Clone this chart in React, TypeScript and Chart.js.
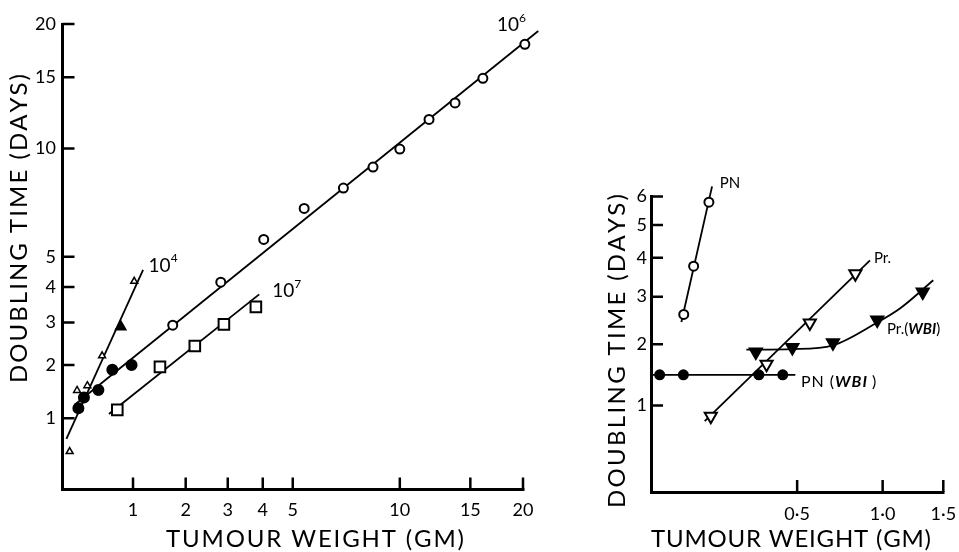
import React, { useEffect, useRef } from 'react';
import { Chart, registerables, LinearScale } from 'chart.js';

Chart.register(...registerables);

// ---------- Left panel data (tumour weight in g, doubling time in days) ----------
const LEFT_TICKS = [1, 2, 3, 4, 5, 10, 15, 20];
const LEFT_TICK_LABELS = ['1', '2', '3', '4', '5', '10', '15', '20'];

// 10^6 inoculum
const W6_OPEN_X = [1.73, 2.82, 4.03, 5.42, 7.05, 8.5, 10.0, 11.87, 13.77, 16.08, 20.2];
const W6_OPEN_Y = [2.93, 4.15, 5.64, 6.92, 7.87, 8.95, 9.97, 11.84, 13.0, 14.91, 17.94];
const W6_FILLED_X = [0.197, 0.269, 0.467, 0.671, 0.976];
const W6_FILLED_Y = [1.167, 1.36, 1.5, 1.9, 2.0];
const W6_LINE_X = [0.15, 21.7];
const W6_LINE_Y = [1.23, 19.27];

// 10^4 inoculum
const W4_OPEN_X = [0.087, 0.18, 0.315, 0.52, 1.02];
const W4_OPEN_Y = [0.49, 1.49, 1.58, 2.2, 4.18];
const W4_FILLED_X = [0.8];
const W4_FILLED_Y = [2.89];
const W4_LINE_X = [0.047, 1.172];
const W4_LINE_Y = [0.673, 4.55];

// 10^7 inoculum
const W7_X = [0.747, 1.48, 2.2, 2.9, 3.79];
const W7_Y = [1.14, 1.96, 2.42, 2.95, 3.42];
const W7_LINE_X = [0.62, 3.89];
const W7_LINE_Y = [1.07, 3.78];

// ---------- Right panel data ----------
const RIGHT_Y_TICKS = [1, 2, 3, 4, 5, 6];
const RIGHT_Y_LABELS = ['1', '2', '3', '4', '5', '6'];
const RIGHT_X_TICKS = [0.5, 1.0, 1.5];
const RIGHT_X_LABELS = ['0·5', '1·0', '1·5'];

const PN_X = [0.084, 0.112, 0.158];
const PN_Y = [2.6, 3.77, 5.79];
const PN_LINE_X = [0.0775, 0.168];
const PN_LINE_Y = [2.44, 6.39];

const PR_X = [0.164, 0.365, 0.562, 0.818];
const PR_Y = [0.855, 1.64, 2.42, 3.57];
const PR_LINE_X = [0.145, 0.9125];
const PR_LINE_Y = [0.79, 3.93];

const PRW_X = [0.322, 0.4775, 0.685, 0.962, 1.314];
const PRW_Y = [1.857, 1.94, 2.03, 2.48, 3.11];
const PRW_CURVE_X = [0.286, 0.48, 0.685, 0.962, 1.128, 1.407];
const PRW_CURVE_Y = [1.9, 1.91, 1.98, 2.43, 2.73, 3.4];

const PNW_X = [0.021, 0.083, 0.334, 0.434];
const PNW_Y = [1.466, 1.466, 1.466, 1.466];
const PNW_LINE_X = [0, 0.4915];
const PNW_LINE_Y = [1.466, 1.466];

// ---------- annotation labels (anchored in data units) ----------
const LEFT_ANNOTATIONS = [
  { x: 17.37, y: 19.86, parts: [{ text: '10', size: 19 }, { text: '6', size: 12, dy: -7 }] },
  { x: 1.27, y: 4.7, parts: [{ text: '10', size: 19 }, { text: '4', size: 12, dy: -7 }] },
  { x: 4.3, y: 3.87, parts: [{ text: '10', size: 19 }, { text: '7', size: 12, dy: -7 }] },
];
const RIGHT_ANNOTATIONS = [
  { x: 0.193, y: 6.53, parts: [{ text: 'PN', size: 15 }] },
  { x: 0.939, y: 4.0, parts: [{ text: 'Pr.', size: 15 }] },
  {
    x: 1.031, y: 2.3,
    parts: [{ text: 'Pr.(', size: 15 }, { text: 'WBI', size: 15, style: 'italic bold' }, { text: ')', size: 15 }],
  },
  {
    x: 0.518, y: 1.346,
    parts: [{ text: 'PN (', size: 16, sp: 1 }, { text: 'WBI', size: 16, style: 'italic bold', sp: 1 }, { text: ' )', size: 16 }],
  },
];

const FONT = 'Lato';

// draw a string centred on (0,0), letters spread so that it spans `length` px
function spacedText(ctx: CanvasRenderingContext2D, text: string, length: number) {
  const chars = Array.from(text);
  const widths = chars.map((c) => ctx.measureText(c).width);
  const natural = widths.reduce((a, b) => a + b, 0);
  const spacing = Math.max(-1.5, (length - natural) / (chars.length - 1));
  const total = natural + spacing * (chars.length - 1);
  let x = -total / 2;
  ctx.textAlign = 'left';
  chars.forEach((c, i) => {
    ctx.fillText(c, x, 0);
    x += widths[i] + spacing;
  });
}

// Scale in which positions are linear in log10(value + shift)
class ShiftLogScale extends LinearScale {
  static id = 'shiftlog';
  static defaults = { ticks: { callback: (v: number) => String(v) } };

  f(v: number) {
    const s = (this.options as any).shift ?? 1;
    return Math.log10(v + s);
  }
  configure() {
    super.configure();
    (this as any)._startValue = this.f(this.min);
    (this as any)._valueRange = this.f(this.max) - this.f(this.min);
  }
  getPixelForValue(value: number) {
    if (value === null || value === undefined || isNaN(value)) return NaN;
    return this.getPixelForDecimal((this.f(value) - (this as any)._startValue) / (this as any)._valueRange);
  }
  getValueForPixel(pixel: number) {
    const s = (this.options as any).shift ?? 1;
    const d = this.getDecimalForPixel(pixel);
    return Math.pow(10, (this as any)._startValue + d * (this as any)._valueRange) - s;
  }
  // tick marks pointing into the plot area
  drawGrid(chartArea: any) {
    const self = this as any;
    if (!self._gridLineItems) self._gridLineItems = self._computeGridLineItems(chartArea);
    const ctx = this.ctx;
    const len = (this.options as any).inTick ?? 12;
    const horiz = this.isHorizontal();
    ctx.save();
    ctx.strokeStyle = '#000';
    ctx.lineWidth = 2.5;
    ctx.beginPath();
    for (const t of this.ticks) {
      const p = this.getPixelForValue(t.value);
      if (horiz) {
        ctx.moveTo(p, this.top);
        ctx.lineTo(p, this.top - len);
      } else {
        ctx.moveTo(this.right, p);
        ctx.lineTo(this.right + len, p);
      }
    }
    ctx.stroke();
    ctx.restore();
  }
  drawTitle() {
    const t: any = (this.options as any).title;
    if (!t || !t.display) return;
    const ctx = this.ctx as any;
    const size = t.font?.size ?? 22;
    const horiz = this.isHorizontal();
    const cx = t.cx ?? (horiz ? (this.left + this.right) / 2 : this.left + size);
    const cy = t.cy ?? (horiz ? this.bottom - size : (this.top + this.bottom) / 2);
    ctx.save();
    ctx.font = `normal ${size}px ${FONT}`;
    ctx.fillStyle = t.color || '#000';
    ctx.textBaseline = 'middle';
    ctx.translate(cx, cy);
    if (!horiz) ctx.rotate(-Math.PI / 2);
    spacedText(ctx, t.text, t.length ?? 250);
    ctx.restore();
  }
}
Chart.register(ShiftLogScale as any);

function pts(xs: number[], ys: number[]) {
  return xs.map((x, i) => ({ x, y: ys[i] }));
}

function makeAnnotationPlugin(items: any[]) {
  return {
    id: 'annot',
    afterDatasetsDraw(chart: any) {
      const ctx = chart.ctx;
      const xs = chart.scales.x;
      const ys = chart.scales.y;
      ctx.save();
      ctx.fillStyle = '#000';
      ctx.textBaseline = 'middle';
      ctx.textAlign = 'left';
      for (const it of items) {
        let px = xs.getPixelForValue(it.x);
        const py = ys.getPixelForValue(it.y);
        for (const p of it.parts) {
          ctx.font = `${p.style || 'normal'} ${p.size}px ${FONT}`;
          ctx.letterSpacing = (p.sp || 0) + 'px';
          ctx.fillText(p.text, px, py + (p.dy || 0));
          px += ctx.measureText(p.text).width;
        }
      }
      ctx.restore();
    },
  };
}

function axis(o: any) {
  const horiz = o.position === 'bottom';
  return {
    type: 'shiftlog',
    shift: o.shift,
    min: o.min,
    max: o.max,
    bounds: 'data',
    position: o.position,
    inTick: 12,
    afterBuildTicks: (s: any) => {
      s.ticks = o.ticks.map((v: number) => ({ value: v }));
    },
    afterFit: (s: any) => {
      if (horiz) s.height = o.size;
      else s.width = o.size;
    },
    ticks: {
      autoSkip: false,
      maxRotation: 0,
      minRotation: 0,
      padding: 0,
      color: '#000',
      font: { family: FONT, size: 18 },
      callback: (_v: number, i: number) => o.labels[i],
    },
    grid: {
      drawOnChartArea: false,
      drawTicks: true,
      tickLength: o.gap,
      color: '#000',
      lineWidth: 2.5,
    },
    border: { display: true, color: '#000', width: 3 },
    title: {
      display: true,
      text: o.title,
      color: '#000',
      font: { family: FONT, size: 24 },
      cx: o.cx,
      cy: o.cy,
      length: o.length,
    },
  };
}

const lineDs = (data: any, extra: any = {}) => ({
  data,
  showLine: true,
  borderColor: '#000',
  borderWidth: 1.8,
  pointRadius: 0,
  clip: false,
  ...extra,
});
const markDs = (data: any, style: string, radius: number, filled: boolean, extra: any = {}) => ({
  data,
  showLine: false,
  pointStyle: style,
  pointRadius: radius,
  pointBorderWidth: 2,
  pointBorderColor: '#000',
  pointBackgroundColor: filled ? '#000' : '#fff',
  clip: false,
  ...extra,
});

function leftConfig(): any {
  return {
    type: 'scatter',
    data: {
      datasets: [
        markDs(pts(W6_OPEN_X, W6_OPEN_Y), 'circle', 4.5, false),
        markDs(pts(W6_FILLED_X, W6_FILLED_Y), 'circle', 5, true),
        markDs(pts(W4_OPEN_X, W4_OPEN_Y), 'triangle', 4, false, { pointBorderWidth: 1.5 }),
        markDs(pts(W4_FILLED_X, W4_FILLED_Y), 'triangle', 5.5, true),
        markDs(pts(W7_X, W7_Y), 'rect', 7.5, false),
        lineDs(pts(W6_LINE_X, W6_LINE_Y)),
        lineDs(pts(W4_LINE_X, W4_LINE_Y)),
        lineDs(pts(W7_LINE_X, W7_LINE_Y)),
      ],
    },
    options: {
      animation: false,
      responsive: false,
      events: [],
      layout: { padding: { left: 0, top: 24, right: 37, bottom: 0 } },
      plugins: { legend: { display: false }, tooltip: { enabled: false } },
      scales: {
        x: axis({
          position: 'bottom', shift: 2.5, min: 0, max: 20, ticks: LEFT_TICKS, labels: LEFT_TICK_LABELS,
          size: 62.5, gap: 10, title: 'TUMOUR WEIGHT (GM)', cx: 315, cy: 539, length: 298,
        }),
        y: axis({
          position: 'left', shift: 2.5, min: 0, max: 20, ticks: LEFT_TICKS, labels: LEFT_TICK_LABELS,
          size: 62.5, gap: 6.5, title: 'DOUBLING TIME (DAYS)', cx: 19, cy: 228.5, length: 309,
        }),
      },
    },
    plugins: [makeAnnotationPlugin(LEFT_ANNOTATIONS)],
  };
}

function rightConfig(): any {
  return {
    type: 'scatter',
    data: {
      datasets: [
        markDs(pts(PN_X, PN_Y), 'circle', 4.5, false),
        markDs(pts(PR_X, PR_Y), 'triangle', 7, false, { pointRotation: 180 }),
        markDs(pts(PRW_X, PRW_Y), 'triangle', 7, true, { pointRotation: 180 }),
        markDs(pts(PNW_X, PNW_Y), 'circle', 4.5, true),
        lineDs(pts(PN_LINE_X, PN_LINE_Y)),
        lineDs(pts(PR_LINE_X, PR_LINE_Y)),
        lineDs(pts(PRW_CURVE_X, PRW_CURVE_Y), { cubicInterpolationMode: 'monotone' }),
        lineDs(pts(PNW_LINE_X, PNW_LINE_Y)),
      ],
    },
    options: {
      animation: false,
      responsive: false,
      events: [],
      layout: { padding: { left: 0, top: 196.5, right: 15.7, bottom: 0 } },
      plugins: { legend: { display: false }, tooltip: { enabled: false } },
      scales: {
        x: axis({
          position: 'bottom', shift: 0.5, min: 0, max: 1.5, ticks: RIGHT_X_TICKS, labels: RIGHT_X_LABELS,
          size: 60, gap: 11, title: 'TUMOUR WEIGHT (GM)', cx: 231, cy: 539, length: 280,
        }),
        y: axis({
          position: 'left', shift: 2, min: 0, max: 6, ticks: RIGHT_Y_TICKS, labels: RIGHT_Y_LABELS,
          size: 91, gap: 4, title: 'DOUBLING TIME (DAYS)', cx: 57, cy: 351, length: 314,
        }),
      },
    },
    plugins: [makeAnnotationPlugin(RIGHT_ANNOTATIONS)],
  };
}

export default function App() {
  const leftRef = useRef<HTMLCanvasElement | null>(null);
  const rightRef = useRef<HTMLCanvasElement | null>(null);
  useEffect(() => {
    const c1 = new Chart(leftRef.current as HTMLCanvasElement, leftConfig());
    const c2 = new Chart(rightRef.current as HTMLCanvasElement, rightConfig());
    return () => {
      c1.destroy();
      c2.destroy();
    };
  }, []);
  return (
    <div style={{ position: 'absolute', left: 0, top: 0, width: 959, height: 552, background: '#fff' }}>
      <canvas ref={leftRef} width={560} height={552} style={{ position: 'absolute', left: 0, top: 0 }} />
      <canvas ref={rightRef} width={399} height={552} style={{ position: 'absolute', left: 560, top: 0 }} />
    </div>
  );
}
